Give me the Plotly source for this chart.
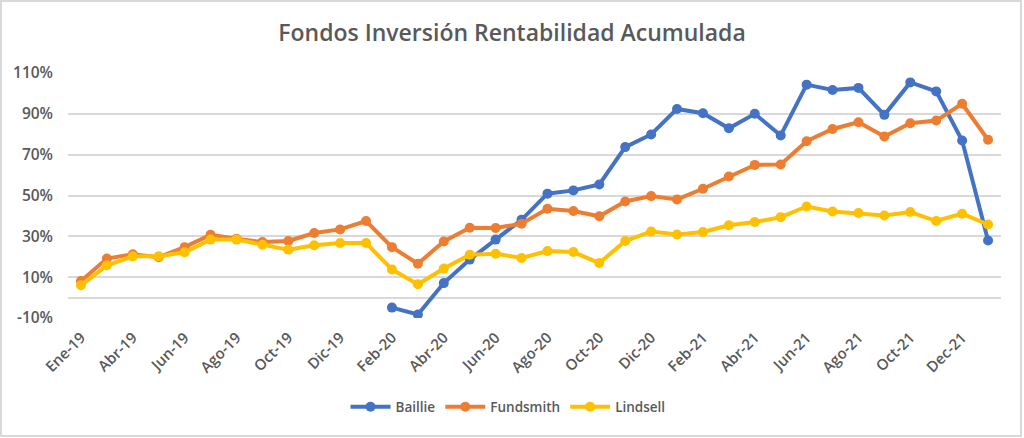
import plotly.graph_objects as go

months = ["Ene-19", "Mar-19", "Abr-19", "May-19", "Jun-19", "Jul-19", "Ago-19", "Sep-19",
          "Oct-19", "Nov-19", "Dic-19", "Ene-20", "Feb-20", "Mar-20", "Abr-20", "May-20",
          "Jun-20", "Jul-20", "Ago-20", "Sep-20", "Oct-20", "Nov-20", "Dic-20", "Ene-21",
          "Feb-21", "Mar-21", "Abr-21", "May-21", "Jun-21", "Jul-21", "Ago-21", "Sep-21",
          "Oct-21", "Nov-21", "Dec-21", "Ene-22"]

baillie = [None] * 12 + [-4.9, -8.3, 7.1, 18.6, 28.4, 38.1, 50.9, 52.5, 55.4, 73.7, 79.9, 92.4,
                         90.3, 82.9, 90.0, 79.4, 104.3, 101.7, 102.7, 89.5, 105.4, 101.0, 76.9, 28.0]
fundsmith = [8.1, 19.1, 21.2, 19.8, 24.7, 30.8, 28.8, 27.2, 27.7, 31.6, 33.4, 37.5,
             24.7, 16.6, 27.5, 34.2, 34.1, 36.2, 43.5, 42.4, 39.8, 47.1, 49.7, 48.1,
             53.3, 59.3, 65.0, 65.2, 76.6, 82.6, 85.9, 78.9, 85.4, 86.7, 94.9, 77.3]
lindsell = [6.0, 15.8, 20.2, 20.2, 22.2, 28.4, 28.4, 25.9, 23.5, 25.6, 26.7, 26.7,
            13.8, 6.5, 14.2, 21.0, 21.5, 19.4, 22.8, 22.3, 16.9, 27.7, 32.4, 30.9,
            32.1, 35.4, 37.0, 39.4, 44.6, 42.2, 41.4, 40.2, 41.9, 37.5, 41.1, 35.8]

series = [("Baillie", baillie, "#4472C4"),
          ("Fundsmith", fundsmith, "#ED7D31"),
          ("Lindsell", lindsell, "#FFC000")]

tick_labels = months[::2]
y_tick_values = [-10, 10, 30, 50, 70, 90, 110]
y_tick_labels = ["-10%", "10%", "30%", "50%", "70%", "90%", "110%"]

fig = go.Figure()
for name, vals, color in series:
    fig.add_trace(go.Scatter(
        x=months, y=[None if v is None else v / 100 for v in vals],
        name=name, mode="lines+markers",
        line=dict(color=color, width=4),
        marker=dict(color=color, size=10),
        connectgaps=False,
    ))

W, H = 1024, 438
L, R, T, B = 68, 23, 73, 120
pw, ph = W - L - R, H - T - B

def px_to_paper_x(px):
    return (px - L) / pw

def px_to_paper_y(py):
    return (H - B - py) / ph

fig.update_layout(
    width=W, height=H,
    margin=dict(l=L, r=R, t=T, b=B, autoexpand=False),
    paper_bgcolor="white", plot_bgcolor="white",
    font=dict(family="Open Sans", color="#595959"),
    title=dict(text="Fondos Inversión Rentabilidad Acumulada",
               x=0.5, xref="container", xanchor="center",
               y=1 - 33 / H, yref="container", yanchor="middle",
               font=dict(size=23, color="#595959", family="Open Sans", weight=600)),
    xaxis=dict(type="category", range=[-0.5, 35.5],
               tickmode="array", tickvals=tick_labels, ticktext=tick_labels,
               tickangle=-45, showgrid=False, showline=False, ticks="",
               ticklabelstandoff=7,
               tickfont=dict(size=15, color="#595959", weight=600)),
    yaxis=dict(range=[-0.1, 1.1],
               tickmode="array", tickvals=[v / 100 for v in y_tick_values],
               ticktext=y_tick_labels,
               showgrid=True, gridcolor="#D9D9D9", gridwidth=1.5,
               zeroline=True, zerolinecolor="#D9D9D9", zerolinewidth=1.5,
               showline=False, ticks="", ticklabelstandoff=14,
               tickfont=dict(size=15.5, color="#595959", weight=600)),
    legend=dict(orientation="h", x=px_to_paper_x(508), xanchor="center",
                y=px_to_paper_y(407), yanchor="middle",
                font=dict(size=13.5, color="#595959", weight=600),
                itemwidth=40, traceorder="normal"),
    showlegend=True,
    shapes=[dict(type="rect", xref="paper", yref="paper",
                 x0=px_to_paper_x(1), x1=px_to_paper_x(1021),
                 y0=px_to_paper_y(436), y1=px_to_paper_y(1),
                 line=dict(color="#D9D9D9", width=2), fillcolor="rgba(0,0,0,0)",
                 layer="below")],
)

fig.write_html("out.html", config={"displayModeBar": False},
               post_script="document.body.style.margin='0';")
